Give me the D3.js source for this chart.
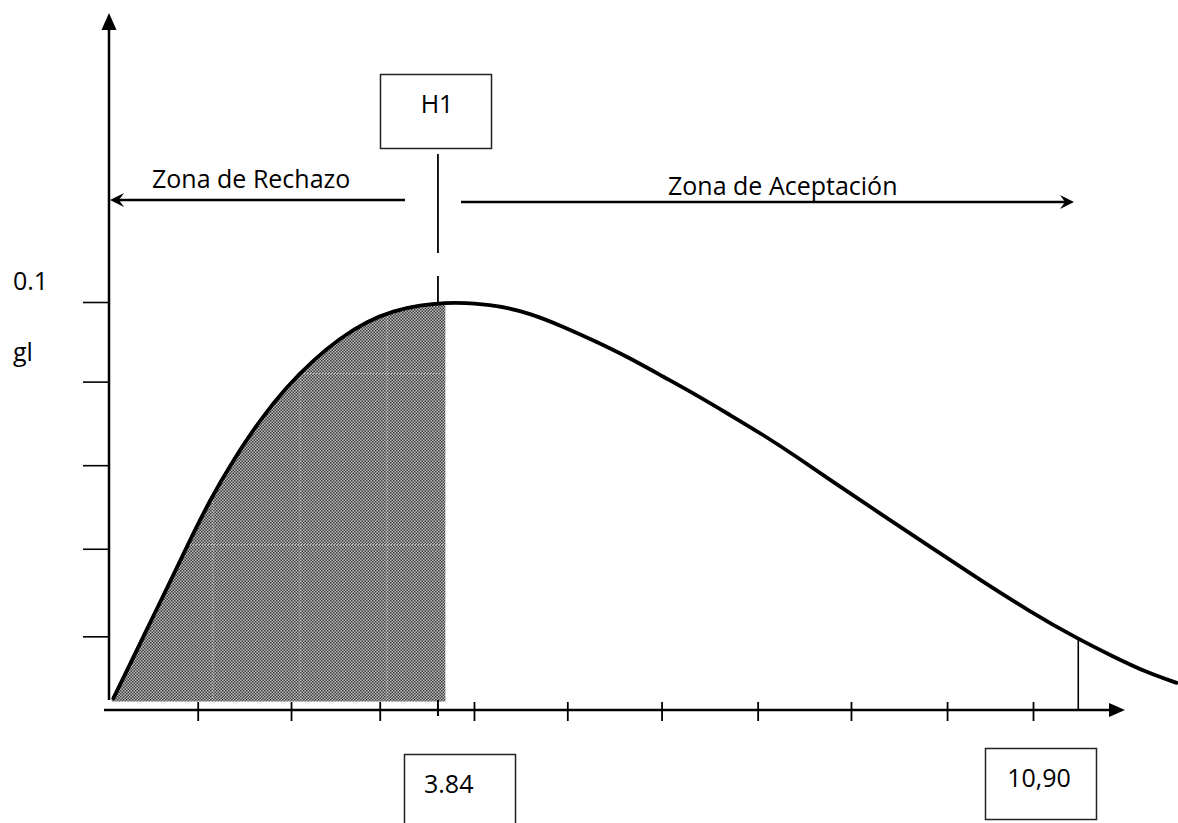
<!DOCTYPE html>
<html>
<head>
<meta charset="utf-8">
<script src="https://cdn.jsdelivr.net/npm/d3@7"></script>
<style>
  html, body { margin: 0; padding: 0; background: #fff; }
  svg { display: block; }
  text { font-family: "Open Sans", "Noto Sans", sans-serif; fill: #000; }
</style>
</head>
<body>
<svg id="chart" width="1178" height="823"></svg>
<script>
// ---- data ----
const curveX = [0.047, 0.268, 0.444, 0.624, 0.841, 1.093, 1.345, 1.634, 1.923, 2.211, 2.500, 2.789, 3.077, 3.366, 3.655,
                3.834, 4.195, 4.556, 4.917, 5.278, 5.639, 6.000, 6.360, 6.721, 7.082, 7.443, 7.803, 8.344, 8.885, 9.426,
                9.968, 10.473, 10.869, 11.230, 11.555];
const curveY = [0.0004, 0.0109, 0.0194, 0.0279, 0.0385, 0.0503, 0.0603, 0.0704, 0.0787, 0.0854, 0.0909, 0.0951, 0.0978, 0.0992, 0.0998,
                0.0998, 0.0992, 0.0972, 0.0938, 0.0900, 0.0859, 0.0812, 0.0766, 0.0716, 0.0666, 0.0611, 0.0553, 0.0469, 0.0385, 0.0302,
                0.0222, 0.0155, 0.0109, 0.0069, 0.0043];
const xTickValues = [0.96, 1.97, 2.93, 3.95, 4.96, 5.98, 7.02, 8.03, 9.07, 10.0];
const yTickValues = [0.016, 0.038, 0.059, 0.080, 0.100];
const yTopLabel = "0.1";
const yAxisLabel = "gl";
const criticalValue = 3.56;      // position of the H1 / 3.84 marker
const criticalLabel = "3.84";
const shadeEnd = 3.64;           // right edge of the shaded rejection area
const upperValue = 10.49;        // position of the 10,90 marker
const upperLabel = "10,90";
const hypothesisLabel = "H1";
const rejectLabel = "Zona de Rechazo";
const acceptLabel = "Zona de Aceptación";

// ---- layout ----
const svg = d3.select("#chart");
const x = d3.scaleLinear().domain([0, 10]).range([109, 1033]);
const y = d3.scaleLinear().domain([0, 0.1]).range([700, 302]);
const axisY = 710;   // x axis line
const axisX = 109;   // y axis line

const pts = curveX.map((v, i) => ({x: v, y: curveY[i]}));

function curveAt(v) {
  for (let i = 1; i < pts.length; i++) {
    if (pts[i].x >= v) {
      const a = pts[i - 1], b = pts[i];
      const t = (v - a.x) / (b.x - a.x);
      return a.y + t * (b.y - a.y);
    }
  }
  return pts[pts.length - 1].y;
}

// pattern for shaded area
const defs = svg.append("defs");
const pat = defs.append("pattern").attr("id", "dots").attr("patternUnits", "userSpaceOnUse")
  .attr("width", 3).attr("height", 3);
pat.append("rect").attr("width", 3).attr("height", 3).attr("fill", "#bcbcbc");
pat.append("rect").attr("x", 0).attr("y", 0).attr("width", 1.5).attr("height", 1.5).attr("fill", "#3c3c3c");
pat.append("rect").attr("x", 1.5).attr("y", 1.5).attr("width", 1.5).attr("height", 1.5).attr("fill", "#3c3c3c");

defs.append("clipPath").attr("id", "shadeClip")
  .append("rect").attr("x", 0).attr("y", 0).attr("width", x(shadeEnd)).attr("height", 823);

const smooth = d3.curveBasis;
const area = d3.area().x(d => x(d.x)).y0(y(0)).y1(d => y(d.y)).curve(smooth);
const shade = svg.append("g").attr("clip-path", "url(#shadeClip)");
shade.append("path").datum(pts).attr("d", area).attr("fill", "url(#dots)")
  .attr("stroke", "url(#dots)").attr("stroke-width", 3);

// faint white dotted grid artifacts inside the shading
const gridH = [0.082, 0.039];
const gridV = [1.125, 2.07, 3.01];
const gridG = shade.append("g").attr("stroke", "#fff").attr("stroke-width", 1)
  .attr("stroke-dasharray", "1,2").attr("opacity", 0.8);
gridH.forEach(v => gridG.append("line").attr("x1", x(0)).attr("x2", x(shadeEnd)).attr("y1", y(v)).attr("y2", y(v)));
gridV.forEach(v => gridG.append("line").attr("x1", x(v)).attr("x2", x(v)).attr("y1", y(curveAt(v)) + 4).attr("y2", y(0)));

// curve
const line = d3.line().x(d => x(d.x)).y(d => y(d.y)).curve(smooth);
svg.append("path").datum(pts).attr("d", line).attr("fill", "none")
  .attr("stroke", "#000").attr("stroke-width", 3.8).attr("stroke-linecap", "round");

// y axis
svg.append("line").attr("x1", axisX).attr("x2", axisX).attr("y1", 26).attr("y2", 700)
  .attr("stroke", "#000").attr("stroke-width", 2.5);
svg.append("path").attr("d", `M${axisX},13 L${axisX - 7.5},30 L${axisX + 7.5},30 Z`).attr("fill", "#000");
const yAxis = d3.axisLeft(y).tickValues(yTickValues).tickSize(26).tickFormat("");
const gy = svg.append("g").attr("transform", `translate(${axisX},0)`).call(yAxis);
gy.select(".domain").remove();
gy.selectAll(".tick line").attr("stroke", "#000").attr("stroke-width", 1.6);

// x axis
svg.append("line").attr("x1", 104).attr("x2", 1112).attr("y1", axisY).attr("y2", axisY)
  .attr("stroke", "#000").attr("stroke-width", 2.5);
svg.append("path").attr("d", `M1125,${axisY} L1109,${axisY - 7} L1109,${axisY + 7} Z`).attr("fill", "#000");
const xAxis = d3.axisBottom(x).tickValues(xTickValues).tickSize(19).tickFormat("");
const gx = svg.append("g").attr("transform", `translate(0,${axisY - 8})`).call(xAxis);
gx.select(".domain").remove();
gx.selectAll(".tick line").attr("stroke", "#000").attr("stroke-width", 1.8);

// critical value marker on axis
svg.append("line").attr("x1", x(criticalValue)).attr("x2", x(criticalValue)).attr("y1", 700).attr("y2", 716)
  .attr("stroke", "#000").attr("stroke-width", 2);
// H1 dashed vertical
svg.append("line").attr("x1", x(criticalValue)).attr("x2", x(criticalValue)).attr("y1", 154).attr("y2", 253)
  .attr("stroke", "#000").attr("stroke-width", 1.8);
svg.append("line").attr("x1", x(criticalValue)).attr("x2", x(criticalValue)).attr("y1", 276).attr("y2", y(curveAt(criticalValue)))
  .attr("stroke", "#000").attr("stroke-width", 1.8);

// upper marker line
svg.append("line").attr("x1", x(upperValue)).attr("x2", x(upperValue)).attr("y1", y(curveAt(upperValue))).attr("y2", axisY)
  .attr("stroke", "#000").attr("stroke-width", 1.6);

// zone arrows
function stealth(tipX, yy, dir) {
  const b = tipX - dir * 14;
  const m = tipX - dir * 9;
  return `M${tipX},${yy} L${b},${yy - 7} L${m},${yy} L${b},${yy + 7} Z`;
}
svg.append("line").attr("x1", 115).attr("x2", 405).attr("y1", 200).attr("y2", 200)
  .attr("stroke", "#000").attr("stroke-width", 2.4);
svg.append("path").attr("d", stealth(110, 200, -1)).attr("fill", "#000");
svg.append("line").attr("x1", 461).attr("x2", 1066).attr("y1", 202).attr("y2", 202)
  .attr("stroke", "#000").attr("stroke-width", 2.4);
svg.append("path").attr("d", stealth(1074, 202, 1)).attr("fill", "#000");

svg.append("text").attr("x", 152).attr("y", 188).attr("font-size", 25).text(rejectLabel);
svg.append("text").attr("x", 668).attr("y", 195).attr("font-size", 25).text(acceptLabel);

// boxes
function box(x0, y0, w, h, label, tx, ty, anchor) {
  svg.append("rect").attr("x", x0).attr("y", y0).attr("width", w).attr("height", h)
    .attr("fill", "#fff").attr("stroke", "#222").attr("stroke-width", 1.5);
  svg.append("text").attr("x", tx).attr("y", ty).attr("font-size", 25)
    .attr("text-anchor", anchor).text(label);
}
box(380.5, 74.5, 111, 74, hypothesisLabel, 437, 113, "middle");
box(404.5, 754.5, 111, 80, criticalLabel, 424, 793, "start");
box(985.5, 748.5, 111, 71, upperLabel, 1039, 787, "middle");

// y labels
svg.append("text").attr("x", 13).attr("y", 290).attr("font-size", 25).text(yTopLabel);
svg.append("text").attr("x", 13).attr("y", 361).attr("font-size", 25).text(yAxisLabel);
</script>
</body>
</html>
